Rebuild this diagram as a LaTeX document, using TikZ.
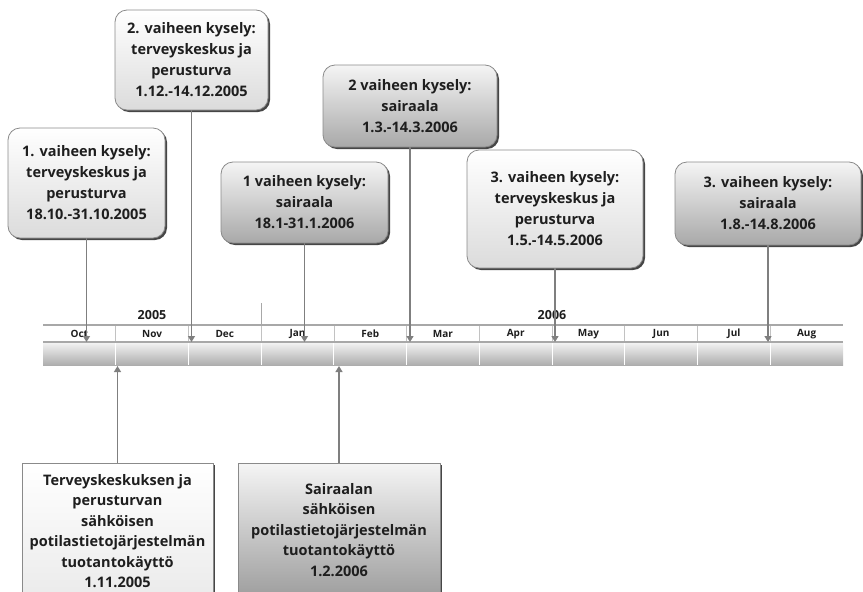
\documentclass[tikz,border=0pt]{standalone}
\usepackage{fontspec}
\setmainfont{Open Sans}
\usetikzlibrary{arrows.meta,shadows}
\definecolor{ink}{HTML}{1E1E1E}
\definecolor{edge}{HTML}{8A8A8A}
\definecolor{conn}{HTML}{7F7F7F}
\definecolor{rule}{HTML}{A8A8A8}
\begin{document}
\begin{tikzpicture}[x=1pt,y=-1pt,
  box/.style={draw=edge, line width=0.8pt, inner sep=0pt, align=center, text=ink,
    font=\fontsize{14.5}{21}\selectfont\bfseries,
    drop shadow={shadow xshift=2pt, shadow yshift=-2pt, opacity=0.85, fill=black!85}},
  roundbox/.style={box, rounded corners=12pt},
  lightbox/.style={roundbox, top color=white, bottom color=black!14},
  darkbox/.style={roundbox, top color=black!4, bottom color=black!34},
  sqlight/.style={box, font=\fontsize{14.5}{20.5}\selectfont\bfseries, top color=white, bottom color=black!8},
  sqdark/.style={box, font=\fontsize{14.5}{20.5}\selectfont\bfseries, top color=black!4, bottom color=black!38},
  conn/.style={draw=conn, line width=1.2pt, -{Triangle[width=7pt,length=6pt]}},
  monthlbl/.style={text=ink, font=\fontsize{10}{11}\selectfont\bfseries, inner sep=0pt},
  yearlbl/.style={text=ink, font=\fontsize{12.5}{14}\selectfont\bfseries, inner sep=0pt},
]
\useasboundingbox (0,0) rectangle (863,592);
\clip (0,0) rectangle (863,592);

% timeline: month row and shaded bar
\fill[white] (43,325) rectangle (843,342);
\shade[top color=black!4, bottom color=black!32] (43,342) rectangle (843,365);
\foreach \i in {1,...,10} {
  \draw[rule!70, line width=0.8pt] ({43+\i*72.727},325) -- ({43+\i*72.727},342);
  \draw[white, line width=1pt] ({43+\i*72.727},342) -- ({43+\i*72.727},365);
}
\draw[rule, line width=1.5pt] (43,325) -- (843,325);
\draw[rule, line width=1.5pt] (43,342) -- (843,342);
\draw[rule, line width=0.8pt] (261,303) -- (261,325);

\foreach \m [count=\i from 0] in {Oct,Nov,Dec,Jan,Feb,Mar,Apr,May,Jun,Jul,Aug}
  \node[monthlbl] (m\i) at ({43+(\i+0.5)*72.727},334) {\m};
\node[yearlbl] (y5) at (152,315) {2005};
\node[yearlbl] (y6) at (552,315) {2006};

\coordinate (rowbot) at (0,342);
\coordinate (barbot) at (0,366);

% survey rounds
\node[lightbox, minimum width=157pt, minimum height=110pt] (b1) at (86.5,183)
  {1. vaiheen kysely:\\terveyskeskus ja\\perusturva\\18.10.-31.10.2005};
\node[lightbox, minimum width=153pt, minimum height=100pt] (b2) at (191.5,60)
  {2. vaiheen kysely:\\terveyskeskus ja\\perusturva\\1.12.-14.12.2005};
\node[darkbox, minimum width=167pt, minimum height=81pt] (b3) at (304.5,202.5)
  {1 vaiheen kysely:\\sairaala\\18.1-31.1.2006};
\node[darkbox, minimum width=174pt, minimum height=82pt] (b4) at (410,106)
  {2 vaiheen kysely:\\sairaala\\1.3.-14.3.2006};
\node[lightbox, minimum width=176pt, minimum height=118pt] (b5) at (555,209)
  {3. vaiheen kysely:\\terveyskeskus ja\\perusturva\\1.5.-14.5.2006};
\node[darkbox, minimum width=186pt, minimum height=83pt] (b6) at (768,203.5)
  {3. vaiheen kysely:\\sairaala\\1.8.-14.8.2006};

% go-live milestones
\node[sqlight, minimum width=191pt, minimum height=136pt] (bA) at (117.5,531)
  {Terveyskeskuksen ja\\perusturvan\\sähköisen\\potilastietojärjestelmän\\tuotantokäyttö\\1.11.2005};
\node[sqdark, minimum width=202pt, minimum height=134pt] (bB) at (339,530)
  {Sairaalan\\sähköisen\\potilastietojärjestelmän\\tuotantokäyttö\\1.2.2006};

% connectors
\foreach \b in {b1,b2,b3,b4,b5,b6}
  \draw[conn] (\b) -- (\b |- rowbot);
\draw[conn] (bA) -- (bA |- barbot);
\draw[conn] (bB) -- (bB |- barbot);
\end{tikzpicture}
\end{document}
